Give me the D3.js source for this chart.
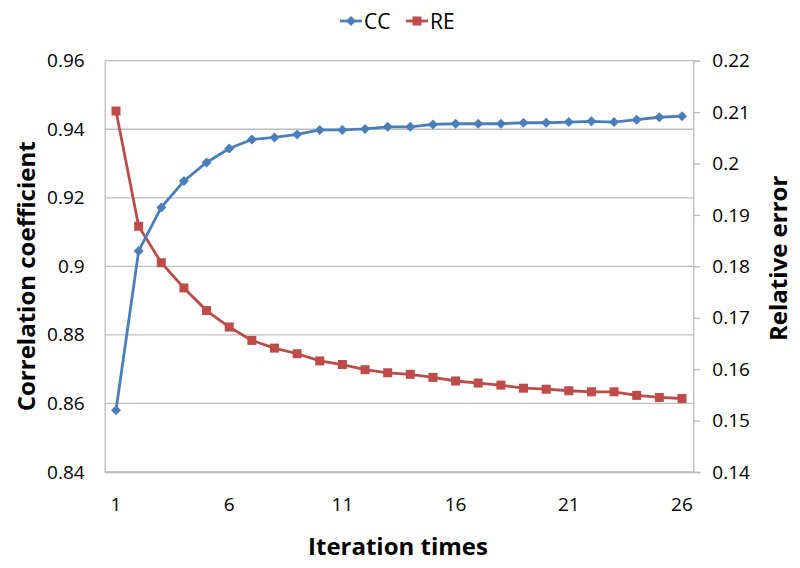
<!DOCTYPE html>
<html>
<head>
<meta charset="utf-8">
<script src="https://cdn.jsdelivr.net/npm/d3@7"></script>
<style>
  html, body { margin: 0; padding: 0; background: #fff; }
  svg { display: block; }
  text { font-family: "Open Sans", "Liberation Sans", sans-serif; fill: #000; }
</style>
</head>
<body>
<div id="chart"></div>
<script>
// ---- data ----
const iterations = d3.range(1, 27);
const ccValues = [0.858, 0.9045, 0.9172, 0.9249, 0.9303, 0.9344, 0.9370, 0.9376, 0.9385, 0.9398,
                  0.9398, 0.9401, 0.9407, 0.9407, 0.9414, 0.9416, 0.9416, 0.9416, 0.9419, 0.9419,
                  0.9421, 0.9423, 0.9421, 0.9428, 0.9435, 0.9438];
const reValues = [0.2102, 0.1878, 0.1807, 0.1758, 0.1714, 0.1682, 0.1656, 0.1641, 0.1630, 0.1616,
                  0.1609, 0.1599, 0.1593, 0.1590, 0.1584, 0.1577, 0.1573, 0.1569, 0.1563, 0.1561,
                  0.1558, 0.1556, 0.1556, 0.1549, 0.1545, 0.1543];
const leftTicks = [0.84, 0.86, 0.88, 0.90, 0.92, 0.94, 0.96];
const rightTicks = [0.14, 0.15, 0.16, 0.17, 0.18, 0.19, 0.20, 0.21, 0.22];
const xTickLabels = [1, 6, 11, 16, 21, 26];
const seriesNames = ["CC", "RE"];
const leftTitle = "Correlation coefficient";
const rightTitle = "Relative error";
const xTitle = "Iteration times";

// ---- layout ----
const W = 800, H = 568;
const plot = { left: 104.7, right: 693.3, top: 60.7, bottom: 472 };
const blue = "#4A7EBB", red = "#BE4B48", grid = "#BDBDBD";

const svg = d3.select("#chart").append("svg")
  .attr("width", W).attr("height", H)
  .style("background", "#fff");

const x = d3.scaleBand().domain(iterations).range([plot.left, plot.right]).padding(0);
const xc = d => x(d) + x.bandwidth() / 2;
const yL = d3.scaleLinear().domain([0.84, 0.96]).range([plot.bottom, plot.top]);
const yR = d3.scaleLinear().domain([0.14, 0.22]).range([plot.bottom, plot.top]);

// gridlines (left axis)
svg.append("g").selectAll("line").data(leftTicks).join("line")
  .attr("x1", plot.left).attr("x2", plot.right)
  .attr("y1", d => yL(d)).attr("y2", d => yL(d))
  .attr("stroke", grid).attr("stroke-width", 1.3);

const fmt = d => d3.format("")(+d.toFixed(2));

// left axis
const gL = svg.append("g").attr("transform", `translate(${plot.left},0)`)
  .call(d3.axisLeft(yL).tickValues(leftTicks).tickSize(0).tickPadding(20).tickFormat(fmt));
gL.select(".domain").attr("stroke", grid).attr("stroke-width", 1.3);
gL.selectAll("text").attr("font-size", 19).attr("font-family", "Open Sans").attr("fill", "#000");

// right axis
const gR = svg.append("g").attr("transform", `translate(${plot.right},0)`)
  .call(d3.axisRight(yR).tickValues(rightTicks).tickSize(7).tickPadding(12).tickFormat(fmt));
gR.select(".domain").attr("stroke", grid).attr("stroke-width", 1.3);
gR.selectAll(".tick line").attr("stroke", grid).attr("stroke-width", 1.3);
gR.selectAll("text").attr("font-size", 19).attr("font-family", "Open Sans").attr("fill", "#000");

// bottom axis
const gB = svg.append("g").attr("transform", `translate(0,${plot.bottom})`)
  .call(d3.axisBottom(x).tickValues(xTickLabels).tickSize(0).tickPadding(26));
gB.select(".domain").attr("stroke", grid).attr("stroke-width", 1.3);
gB.selectAll("text").attr("font-size", 19).attr("font-family", "Open Sans").attr("fill", "#000");

// lines
const lineCC = d3.line().x((d, i) => xc(iterations[i])).y(d => yL(d));
const lineRE = d3.line().x((d, i) => xc(iterations[i])).y(d => yR(d));

svg.append("path").datum(reValues).attr("d", lineRE)
  .attr("fill", "none").attr("stroke", red).attr("stroke-width", 2.8);
svg.append("g").selectAll("rect").data(reValues).join("rect")
  .attr("x", (d, i) => xc(iterations[i]) - 4.5).attr("y", d => yR(d) - 4.5)
  .attr("width", 9).attr("height", 9).attr("fill", red);

svg.append("path").datum(ccValues).attr("d", lineCC)
  .attr("fill", "none").attr("stroke", blue).attr("stroke-width", 2.8);
const diamond = s => `M0,${-s}L${s},0L0,${s}L${-s},0Z`;
svg.append("g").selectAll("path").data(ccValues).join("path")
  .attr("transform", (d, i) => `translate(${xc(iterations[i])},${yL(d)})`)
  .attr("d", diamond(5)).attr("fill", blue);

// axis titles
svg.append("text").attr("transform", `translate(35,${(plot.top + plot.bottom) / 2 + 10}) rotate(-90)`)
  .attr("text-anchor", "middle").attr("font-size", 24).attr("font-weight", "bold").text(leftTitle);
svg.append("text").attr("transform", `translate(787,${(plot.top + plot.bottom) / 2 - 8}) rotate(-90)`)
  .attr("text-anchor", "middle").attr("font-size", 24).attr("font-weight", "bold").text(rightTitle);
svg.append("text").attr("x", 398).attr("y", 555)
  .attr("text-anchor", "middle").attr("font-size", 24).attr("font-weight", "bold").text(xTitle);

// legend
const legend = svg.append("g");
const lg = [
  { name: seriesNames[0], color: blue, x0: 340, shape: "diamond" },
  { name: seriesNames[1], color: red, x0: 406, shape: "square" }
];
lg.forEach(it => {
  legend.append("line").attr("x1", it.x0).attr("x2", it.x0 + 22).attr("y1", 21).attr("y2", 21)
    .attr("stroke", it.color).attr("stroke-width", 2.8);
  if (it.shape === "diamond") {
    legend.append("path").attr("transform", `translate(${it.x0 + 11},21)`).attr("d", diamond(5)).attr("fill", it.color);
  } else {
    legend.append("rect").attr("x", it.x0 + 6.5).attr("y", 16.5).attr("width", 9).attr("height", 9).attr("fill", it.color);
  }
  legend.append("text").attr("x", it.x0 + 24).attr("y", 29).attr("font-size", 21).text(it.name);
});
</script>
</body>
</html>
